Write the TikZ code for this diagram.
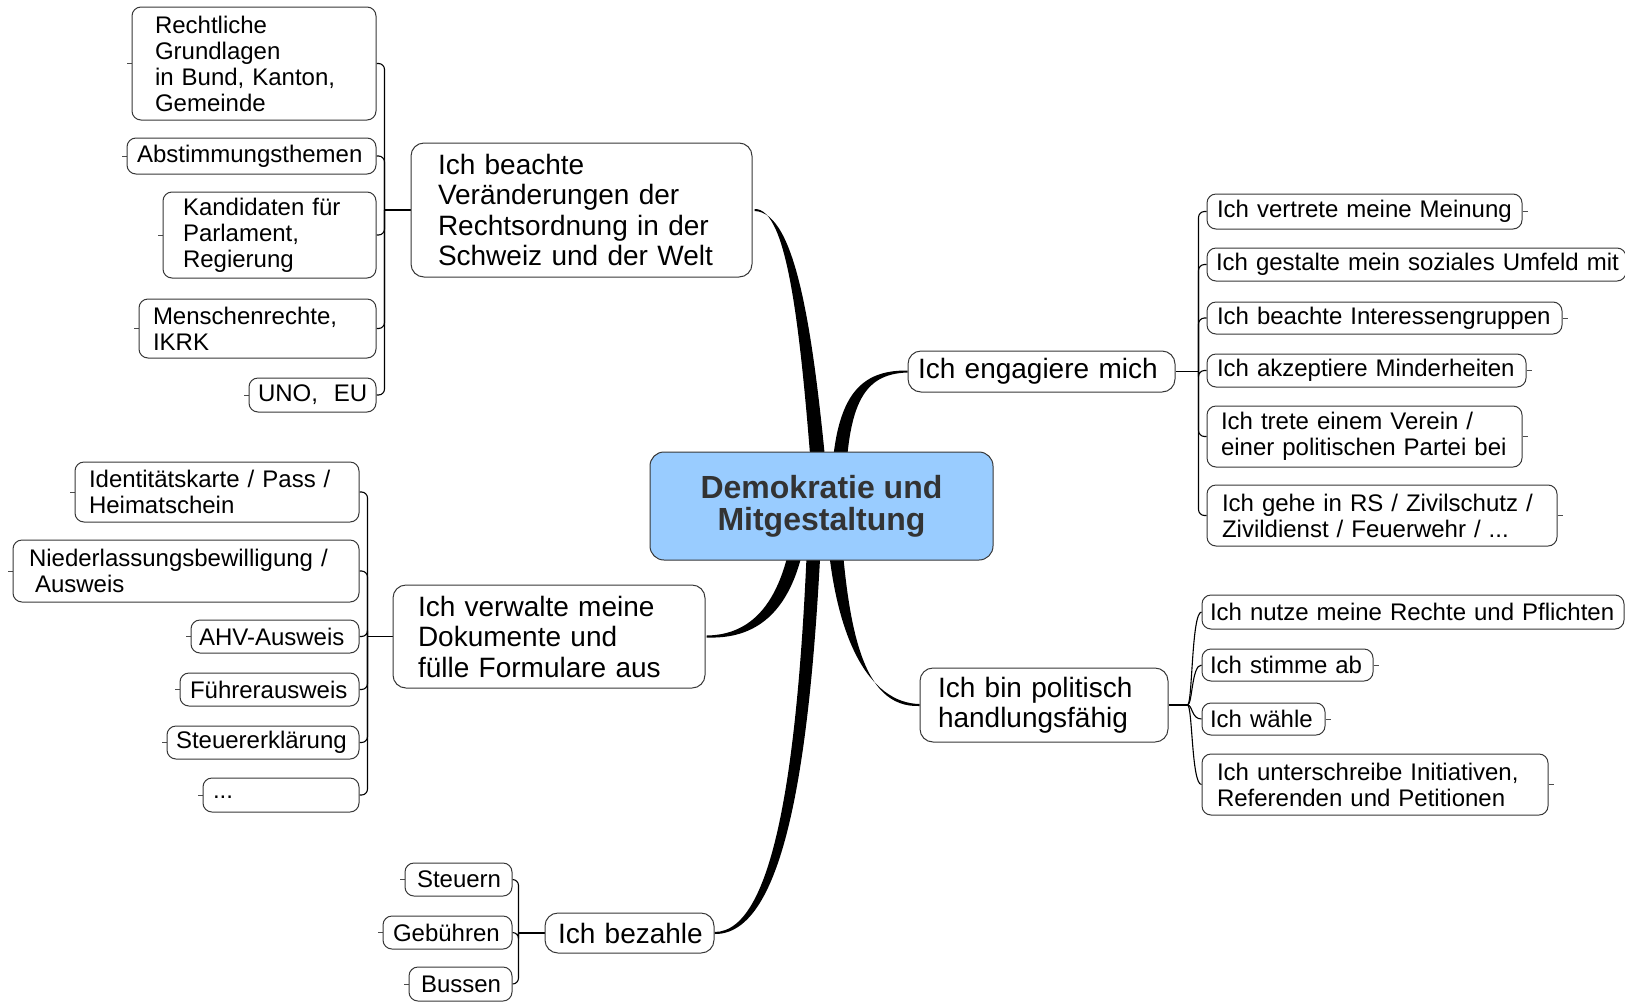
\documentclass[tikz,border=0pt]{standalone}
\usepackage{fontspec}
\setmainfont{Liberation Sans}
\usetikzlibrary{calc,backgrounds}
\definecolor{rootblue}{RGB}{153,204,255}
\definecolor{boxline}{RGB}{55,55,55}
\definecolor{roottext}{RGB}{51,51,51}
% name, style, left, top, right, bottom, pad, text
\newcommand\mkbox[8]{%
  \pgfmathsetmacro\bcx{(#3+#5)/2}%
  \pgfmathsetmacro\bcy{(#4+#6)/2}%
  \pgfmathsetmacro\btw{#5-#3-2*#7}%
  \pgfmathsetmacro\bmh{#6-#4}%
  \node[#2, text width=\btw pt, inner xsep=#7pt, minimum height=\bmh pt] (#1) at (\bcx,\bcy) {#8};}
\begin{document}
\hyphenpenalty=10000
\exhyphenpenalty=10000
\hbadness=10000
\hfuzz=200pt
\begin{tikzpicture}[x=1pt,y=-1pt,
  leafbox/.style={draw=boxline, line width=1pt, rounded corners=9pt, fill=white,
    font=\fontsize{24}{26}\selectfont, align=left, inner ysep=1pt,
    execute at begin node={\hyphenpenalty=10000\exhyphenpenalty=10000}},
  topicbox/.style={leafbox, rounded corners=13pt, font=\fontsize{28}{30.5}\selectfont},
  rootbox/.style={draw=boxline, line width=1pt, fill=rootblue, rounded corners=14pt,
    align=center, text=roottext, font=\bfseries\fontsize{32}{32}\selectfont},
  conn/.style={line width=1.1pt, black},
  stub/.style={line width=0.7pt, black!70},
  branch/.style={fill=black}]
\useasboundingbox (0,0) rectangle (1625,1002);

% root
\node[rootbox, minimum width=343pt, minimum height=108pt] (root) at (821.5,506) {Demokratie und\\Mitgestaltung};

% main topics
\mkbox{t1}{topicbox}{411}{143}{752}{277}{27}{Ich~beachte\\Veränderungen~der\\Rechtsordnung~in~der\\Schweiz~und~der~Welt}
\mkbox{t2}{topicbox}{908}{351}{1175}{392}{10}{Ich~engagiere~mich}
\mkbox{t3}{topicbox}{920}{668}{1168}{742}{18}{Ich~bin~politisch\\handlungsfähig}
\mkbox{t4}{topicbox}{393}{585}{705}{688}{25}{Ich~verwalte~meine\\Dokumente~und\\fülle~Formulare~aus}
\mkbox{t5}{topicbox}{545}{913}{714}{953}{13}{Ich~bezahle}

% leaves of t1
\mkbox{l1a}{leafbox}{132}{7}{376}{120}{23}{Rechtliche\\Grundlagen\\in~Bund,~Kanton,\\Gemeinde}
\mkbox{l1b}{leafbox}{127}{138}{376}{174}{10}{Abstimmungsthemen}
\mkbox{l1c}{leafbox}{163}{192}{376}{278}{20}{Kandidaten~für\\Parlament,\\Regierung}
\mkbox{l1d}{leafbox}{139}{299}{376}{358}{14}{Menschenrechte,\\IKRK}
\mkbox{l1e}{leafbox}{249}{378}{376}{412}{9}{\mbox{UNO,\ \ EU}}

% leaves of t2
\mkbox{l2a}{leafbox}{1207}{194}{1522}{229}{10}{Ich~vertrete~meine~Meinung}
\mkbox{l2b}{leafbox}{1207}{248}{1626}{281}{9}{\mbox{Ich gestalte mein soziales Umfeld mit}}
\mkbox{l2c}{leafbox}{1207}{302}{1562}{334}{10}{Ich~beachte~Interessengruppen}
\mkbox{l2d}{leafbox}{1207}{354}{1526}{387}{10}{Ich~akzeptiere~Minderheiten}
\mkbox{l2e}{leafbox}{1207}{406}{1522}{467}{14}{\mbox{Ich trete einem Verein /}\\\mbox{einer politischen Partei bei}}
\mkbox{l2f}{leafbox}{1207}{485}{1557}{546}{15}{\mbox{Ich gehe in RS / Zivilschutz /}\\\mbox{Zivildienst / Feuerwehr / ...}}

% leaves of t3
\mkbox{l3a}{leafbox}{1202}{595}{1624}{629}{8}{\mbox{Ich nutze meine Rechte und Pflichten}}
\mkbox{l3b}{leafbox}{1202}{649}{1373}{681}{8}{Ich~stimme~ab}
\mkbox{l3c}{leafbox}{1202}{703}{1325}{735}{8}{Ich~wähle}
\mkbox{l3d}{leafbox}{1202}{754}{1548}{815}{15}{\mbox{Ich unterschreibe Initiativen,}\\\mbox{Referenden und Petitionen}}

% leaves of t4
\mkbox{l4a}{leafbox}{75}{462}{359}{522}{14}{\mbox{Identitätskarte / Pass /}\\Heimatschein}
\mkbox{l4b}{leafbox}{13}{540}{359}{602}{16}{\mbox{Niederlassungsbewilligung /}\\\hspace*{6pt}Ausweis}
\mkbox{l4c}{leafbox}{191}{620}{359}{653}{8}{AHV-Ausweis}
\mkbox{l4d}{leafbox}{180}{673}{359}{706}{10}{Führerausweis}
\mkbox{l4e}{leafbox}{167}{726}{359}{759}{9}{Steuererklärung}
\mkbox{l4f}{leafbox}{203}{778}{359}{812}{10}{\raisebox{-7pt}{...}}

% leaves of t5
\mkbox{l5a}{leafbox}{405}{863}{512}{896}{12}{Steuern}
\mkbox{l5b}{leafbox}{383}{916}{512}{949}{10}{Gebühren}
\mkbox{l5c}{leafbox}{409}{967}{512}{1001}{12}{Bussen}

\begin{scope}[on background layer]
% thick tapered branches from the root
\fill[branch] ($(root.center)+(-7.5,0)$) .. controls (801,330) and (788,208) .. ($(t1.east)+(2,-1)$)
   -- ($(t1.east)+(2,1)$) .. controls (796,212) and (814,330) .. ($(root.center)+(8,0)$) -- cycle;
\fill[branch] ($(root.center)+(9.5,0)$) .. controls (831,400) and (856,370) .. ($(t2.west)+(0,-1)$)
   -- ($(t2.west)+(0,1)$) .. controls (862,374) and (846,405) .. ($(root.center)+(23.5,0)$) -- cycle;
\fill[branch] ($(root.center)+(4,0)$) .. controls (831,640) and (870,703) .. ($(t3.west)+(0,-1)$)
   -- ($(t3.west)+(0,1)$) .. controls (862,708) and (847,630) .. ($(root.center)+(18,0)$) -- cycle;
\fill[branch] ($(root.center)+(-26,0)$) .. controls (788,590) and (760,635) .. ($(t4.east)+(1,-1)$)
   -- ($(t4.east)+(1,1)$) .. controls (770,640) and (802,595) .. ($(root.center)+(-12,0)$) -- cycle;
\fill[branch] ($(root.center)+(-13,0)$) .. controls (800,760) and (775,932) .. ($(t5.east)+(0,-1)$)
   -- ($(t5.east)+(0,1)$) .. controls (785,935) and (812,760) .. ($(root.center)+(1,0)$) -- cycle;

% thin connectors
\draw[conn] (t1.west) -- ++(-26,0) coordinate (j1);
\foreach \c in {l1a,l1b,l1c,l1d,l1e} \draw[conn, rounded corners=6pt] (j1) |- (\c.east);
\draw[conn] (t2.east) -- ++(23,0) coordinate (j2);
\foreach \c in {l2a,l2b,l2c,l2d,l2e,l2f} \draw[conn, rounded corners=6pt] (j2) |- (\c.west);
\draw[conn] (t3.east) -- ++(19,0) coordinate (j3);
\foreach \c in {l3a,l3b,l3c,l3d} \draw[conn] (j3) .. controls +(5,0) and +(-10,0) .. (\c.west);
\draw[conn] (t4.west) -- ++(-25,0) coordinate (j4);
\foreach \c in {l4a,l4b,l4c,l4d,l4e,l4f} \draw[conn, rounded corners=6pt] (j4) |- (\c.east);
\draw[conn] (t5.west) -- ++(-26,0) coordinate (j5);
\foreach \c in {l5a,l5b,l5c} \draw[conn, rounded corners=6pt] (j5) |- (\c.east);

% small stubs on the free sides of the leaves
\foreach \c in {l1a,l1b,l1c,l1d,l1e,l4a,l4b,l4c,l4d,l4e,l4f,l5a,l5b,l5c} \draw[stub] (\c.west) -- ++(-5,0);
\foreach \c in {l2a,l2b,l2c,l2d,l2e,l2f,l3a,l3b,l3c,l3d} \draw[stub] (\c.east) -- ++(5,0);
\end{scope}
\end{tikzpicture}
\end{document}
